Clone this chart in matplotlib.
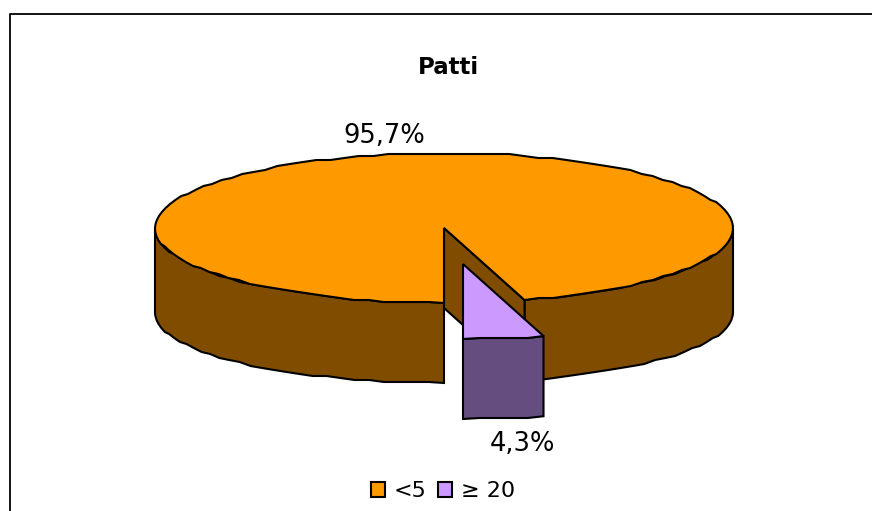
import numpy as np
import matplotlib
matplotlib.use("Agg")
import matplotlib.pyplot as plt
from matplotlib.patches import Polygon, Rectangle

# valori
categorie = ["<5", "≥ 20"]
valori = [95.7, 4.3]
etichette = ["95,7%", "4,3%"]
colori_top = ["#FF9900", "#CC99FF"]
colori_lato = ["#804D00", "#664D80"]

W, H = 872, 511
cx, cy = 444, 228
rx, ry = 289, 75
depth = 85      # altezza sul bordo laterale
ry_base = 70    # l'ellisse di base e' un po' piu' schiacciata (prospettiva)
depth_centro = 80
prospettiva = 1.045
offset = (19, 36)

fig = plt.figure(figsize=(W / 100, H / 100), dpi=100)
ax = fig.add_axes([0, 0, 1, 1])
ax.set_xlim(0, W)
ax.set_ylim(H, 0)
ax.axis("off")

# angoli delle fette (in senso antiorario, partendo dal basso)
ang = 360 * np.array(valori) / sum(valori)
start_orange = -90 + ang[1] * prospettiva
end_orange = 270


def punti(a0, a1, cx=cx, cy=cy, r_y=ry):
    # contorno a segmenti arrotondati, come nel grafico originale
    n = max(2, int(abs(a1 - a0) / 3) + 1)
    t = np.radians(np.linspace(a0, a1, n))
    p = np.column_stack([cx + rx * np.cos(t), cy - r_y * np.sin(t)])
    p[1:-1, 1] = np.round(p[1:-1, 1] / 2) * 2
    return p


def lato(a0, a1, col, cx=cx, cy=cy, z=2):
    p = punti(a0, a1, cx, cy)
    q = punti(a0, a1, cx, cy + depth, ry_base)[::-1]
    ax.add_patch(Polygon(np.vstack([p, q]), fc=col, ec="black", lw=1.5, joinstyle="miter", zorder=z))


def fetta(a0, a1, col, cx=cx, cy=cy, z=4):
    p = punti(a0, a1, cx, cy)
    ax.add_patch(Polygon(np.vstack([[cx, cy], p]), fc=col, ec="black", lw=1.5, joinstyle="miter", zorder=z))


# fetta grande: pareti esterne, parete interna, faccia superiore
lato(180, 270, colori_lato[0])
lato(start_orange, 0, colori_lato[0])
t0 = np.radians(start_orange)
p_top = [cx + rx * np.cos(t0), cy - ry * np.sin(t0)]
p_bot = [cx + rx * np.cos(t0), cy + depth - ry_base * np.sin(t0)]
ax.add_patch(Polygon([[cx, cy], p_top, p_bot, [cx, cy + depth_centro]],
                     fc=colori_lato[0], ec="black", lw=1.5, zorder=3))
fetta(start_orange, end_orange, colori_top[0])

# fetta staccata
ox, oy = cx + offset[0], cy + offset[1]
lato(-90, start_orange, colori_lato[1], ox, oy, z=5)
fetta(-90, start_orange, colori_top[1], ox, oy, z=6)

# titolo ed etichette
ax.text(448.5, 67, "Patti", fontsize=16.5, fontweight="bold", ha="center", va="center", color="black")
ax.text(384.5, 135.5, etichette[0], fontsize=18.5, ha="center", va="center", color="black")
ax.text(522, 443.5, etichette[1], fontsize=18.5, ha="center", va="center", color="black")

# cornice
ax.plot([9.5, 9.5, W + 5], [H + 5, 14, 14], color="black", lw=1.3, clip_on=False, zorder=1)

# legenda
handles = [Rectangle((0, 0), 1, 1, fc=c, ec="black", lw=1.5) for c in colori_top]
ax.legend(handles, categorie, loc="center", bbox_to_anchor=(443 / W, 1 - 491 / H), ncol=2,
          frameon=False, fontsize=16, handlelength=0.65, handleheight=0.65,
          handletextpad=0.4, columnspacing=0.5, borderpad=0, borderaxespad=0)

fig.savefig("out.png", dpi=100, facecolor="white")
